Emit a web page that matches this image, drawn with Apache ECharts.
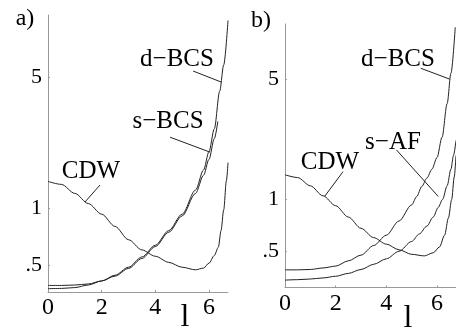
<!DOCTYPE html>
<html>
<head>
<meta charset="utf-8">
<script src="https://cdn.jsdelivr.net/npm/echarts@6/dist/echarts.min.js"></script>
<style>
  html, body { margin: 0; background: #fff; }
  #chart { width: 456px; height: 328px; }
</style>
</head>
<body>
<div id="chart"></div>
<script>
// panel a)
const lCdwA = [0, 0.5, 1, 1.5, 2, 2.5, 3, 3.5, 4, 4.5, 5, 5.5, 5.8, 6.0, 6.2, 6.35, 6.45, 6.55, 6.65, 6.71]
const cdwA = [1.39, 1.34, 1.2, 1.06, 0.93, 0.8, 0.68, 0.6, 0.555, 0.515, 0.485, 0.47, 0.48, 0.51, 0.56, 0.62, 0.76, 0.98, 1.4, 1.75]
const lDbcsA = [0, 0.5, 1, 1.5, 2, 2.5, 3, 3.5, 4, 4.5, 5, 5.5, 5.8, 6.0, 6.2, 6.4, 6.55, 6.71]
const dbcsA = [0.373, 0.374, 0.378, 0.39, 0.41, 0.44, 0.485, 0.55, 0.635, 0.76, 0.93, 1.25, 1.6, 2.0, 2.65, 4.2, 5.8, 10.0]
const lSbcsA = [0, 0.5, 1, 1.5, 2, 2.5, 3, 3.5, 4, 4.5, 5, 5.5, 5.8, 6.0, 6.2, 6.33]
const sbcsA = [0.388, 0.388, 0.39, 0.395, 0.41, 0.435, 0.478, 0.54, 0.625, 0.745, 0.91, 1.2, 1.5, 1.82, 2.35, 2.9]

// panel b)
const lCdwB = [0, 0.5, 1, 1.5, 2, 2.5, 3, 3.5, 4, 4.5, 5, 5.5, 5.85, 6.1, 6.3, 6.45, 6.58, 6.68, 6.75]
const cdwB = [1.39, 1.34, 1.2, 1.05, 0.92, 0.79, 0.68, 0.6, 0.55, 0.51, 0.48, 0.47, 0.49, 0.53, 0.62, 0.78, 1.0, 1.35, 1.8]
const lDbcsB = [0, 0.5, 1, 1.5, 2, 2.5, 3, 3.5, 4, 4.5, 5, 5.2, 5.4, 5.6, 5.8, 6.0, 6.2, 6.4, 6.55, 6.72]
const dbcsB = [0.39, 0.39, 0.392, 0.4, 0.41, 0.44, 0.475, 0.54, 0.62, 0.75, 0.93, 1.04, 1.19, 1.33, 1.5, 1.75, 2.3, 3.6, 5.4, 10.0]
const lSafB = [0, 0.5, 1, 1.5, 2, 2.5, 3, 3.5, 4, 4.5, 5, 5.3, 5.6, 5.85, 6.05, 6.22, 6.4, 6.55, 6.65, 6.75]
const safB = [0.34, 0.342, 0.345, 0.35, 0.358, 0.372, 0.392, 0.42, 0.452, 0.5, 0.57, 0.63, 0.7, 0.79, 0.9, 1.0, 1.2, 1.5, 1.8, 2.2]

const xTicks = [0, 2, 4, 6]
const yTicks = [0.5, 1, 5]

// leader lines: [l, value] from the label to the curve
const leadersA = {
  dbcs: [[5.41, 5.38], [6.46, 4.7]],
  sbcs: [[4.55, 2.39], [6.04, 1.99]],
  cdw: [[1.94, 1.33], [1.38, 1.08]],
}
const leadersB = {
  dbcs: [[5.36, 5.78], [6.5, 5.0]],
  saf: [[4.4, 1.94], [6.05, 1.04]],
  cdw: [[2.29, 1.45], [1.56, 1.04]],
}

const serif = 'Liberation Serif'
const ink = '#222'
const axisGray = '#999'

function zip(xs, ys) {
  return xs.map((x, i) => [x, ys[i]])
}

function xAxisOpt(gridIndex, max) {
  return {
    type: 'value',
    gridIndex,
    min: 0,
    max,
    interval: 2,
    splitLine: { show: false },
    axisLine: { lineStyle: { color: axisGray, width: 1 } },
    axisTick: { show: true, inside: true, length: 2, customValues: xTicks, lineStyle: { color: axisGray } },
    axisLabel: { customValues: xTicks, fontFamily: serif, fontSize: 24, color: '#000', margin: 4 },
  }
}

function yAxisOpt(gridIndex, min, max) {
  return {
    type: 'log',
    gridIndex,
    min,
    max,
    splitLine: { show: false },
    minorTick: { show: false },
    axisLine: { lineStyle: { color: axisGray, width: 1 } },
    axisTick: { show: true, inside: true, length: 2, customValues: yTicks, lineStyle: { color: axisGray } },
    axisLabel: {
      customValues: yTicks,
      fontFamily: serif,
      fontSize: 22,
      color: '#000',
      margin: 6,
      formatter: (v) => (v < 1 ? String(v).replace(/^0/, '') : String(v)),
    },
  }
}

function leader(pair) {
  return [{ coord: pair[0] }, { coord: pair[1] }]
}

function curve(data, axisIndex, leaders) {
  const s = {
    type: 'line',
    xAxisIndex: axisIndex,
    yAxisIndex: axisIndex,
    data,
    showSymbol: false,
    smooth: 0.3,
    smoothMonotone: 'x',
    lineStyle: { color: ink, width: 1 },
    silent: true,
  }
  if (leaders) {
    s.markLine = {
      silent: true,
      symbol: ['none', 'none'],
      label: { show: false },
      lineStyle: { color: ink, width: 1, type: 'solid' },
      data: [leader(leaders)],
    }
  }
  return s
}

function text(x, y, str, size) {
  return {
    type: 'text',
    x,
    y,
    style: {
      text: str,
      fill: '#000',
      fontFamily: serif,
      fontSize: size,
      align: 'center',
      verticalAlign: 'middle',
    },
  }
}

const chart = echarts.init(document.getElementById('chart'))
chart.setOption({
  animation: false,
  backgroundColor: '#fff',
  grid: [
    { left: 48, top: 15, width: 180, height: 277, outerBoundsMode: 'none' },
    { left: 285, top: 24, width: 171, height: 263.5, outerBoundsMode: 'none' },
  ],
  xAxis: [xAxisOpt(0, 6.71), xAxisOpt(1, 6.75)],
  yAxis: [yAxisOpt(0, 0.358, 10.7), yAxisOpt(1, 0.308, 10.45)],
  series: [
    curve(zip(lCdwA, cdwA), 0, leadersA.cdw),
    curve(zip(lDbcsA, dbcsA), 0, leadersA.dbcs),
    curve(zip(lSbcsA, sbcsA), 0, leadersA.sbcs),
    curve(zip(lCdwB, cdwB), 1, leadersB.cdw),
    curve(zip(lDbcsB, dbcsB), 1, leadersB.dbcs),
    curve(zip(lSafB, safB), 1, leadersB.saf),
  ],
  graphic: [
    text(25, 19, 'a)', 24),
    text(261, 21, 'b)', 24),
    text(177, 59, 'd\u2212BCS', 25),
    text(168, 121, 's\u2212BCS', 25),
    text(91, 171, 'CDW', 25),
    text(398, 59, 'd\u2212BCS', 25),
    text(393, 142, 's\u2212AF', 25),
    text(330, 162, 'CDW', 25),
    text(185, 318, 'l', 32),
    text(408, 319, 'l', 32),
  ],
})
</script>
</body>
</html>
